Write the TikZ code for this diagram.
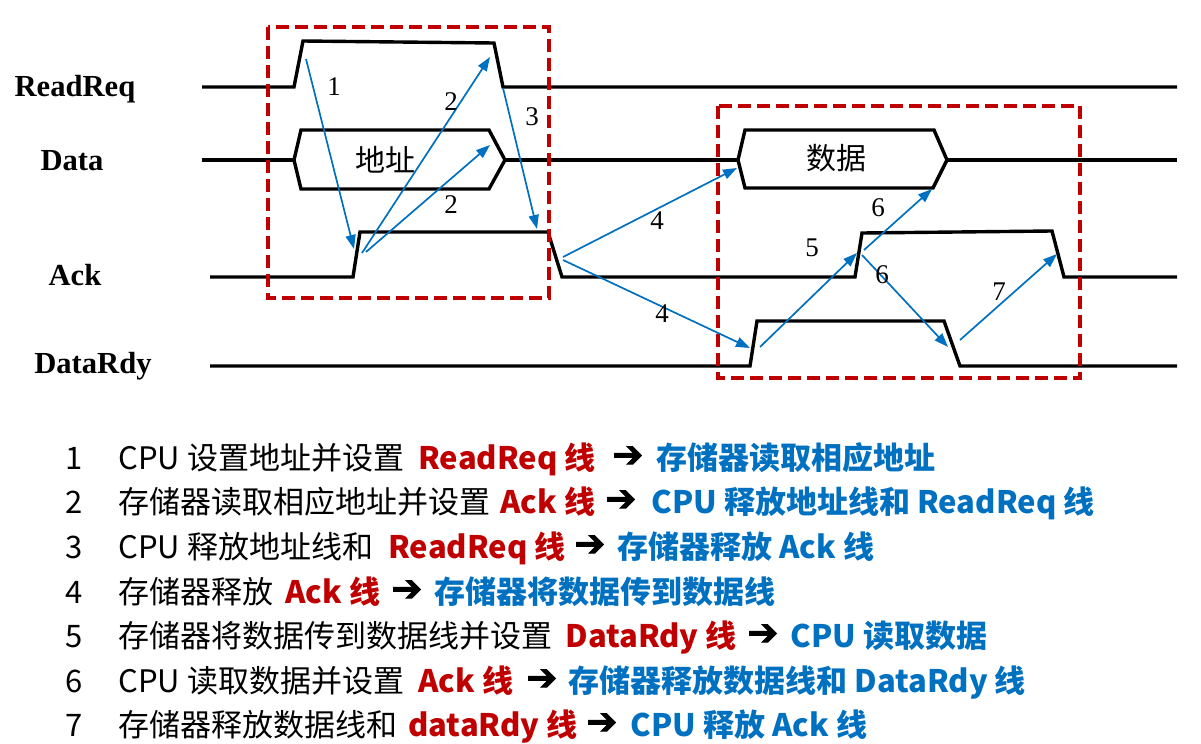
\documentclass[tikz,border=0pt]{standalone}
\usepackage{fontspec}
\newfontfamily\tnr{Liberation Serif}
\newfontfamily\cjk{Noto Sans CJK SC}
\newfontfamily\djv[FakeBold=2]{DejaVu Sans}
\usetikzlibrary{arrows.meta}
\definecolor{dred}{RGB}{192,0,0}
\definecolor{dblue}{RGB}{0,112,192}
\begin{document}
\begin{tikzpicture}[x=0.5pt,y=-0.5pt,
  sig/.style={line width=1.7pt, line join=miter},
  rbox/.style={draw=dred, line width=1.8pt, dash pattern=on 6.5pt off 3pt},
  harr/.style={draw=dblue, line width=0.85pt, -{Triangle[length=7pt,width=5pt]}},
  num/.style={font=\tnr\fontsize{13.5}{15}\selectfont, inner sep=0pt},
  sname/.style={font=\tnr\bfseries\fontsize{15.3}{17}\selectfont, anchor=base, inner sep=0pt},
  hexlbl/.style={font=\cjk\fontsize{15}{17}\selectfont, inner sep=0pt},
  row/.style={font=\cjk\fontsize{15.5}{18}\selectfont, anchor=base west, inner sep=0pt},
  rownum/.style={font=\cjk\fontsize{15.5}{18}\selectfont, anchor=base, inner sep=0pt},
  rred/.style={row, font=\cjk\bfseries\fontsize{15.5}{18}\selectfont, text=dred},
  rblue/.style={row, font=\cjk\bfseries\fontsize{15.5}{18}\selectfont, text=dblue},
  rarr/.style={row, font=\djv\fontsize{18.5}{20}\selectfont}]
\useasboundingbox (0,0) rectangle (1201,744);

% signal names
\node[sname] (nRR) at (75,96) {ReadReq};
\node[sname] (nD) at (72,170) {Data};
\node[sname] (nA) at (75,285) {Ack};
\node[sname] (nDR) at (93,373) {DataRdy};

% waveforms
\draw[sig] (202,87) -- (294,87) -- (303,41) -- (494,43) -- (503,87) -- (1177,87);
\draw[sig] (202,160) -- (294,160);
\draw[sig] (294,160) -- (301,130) -- (489,130) -- (505,160) -- (489,189) -- (301,189) -- cycle;
\draw[sig] (505,160) -- (738,160);
\draw[sig] (738,160) -- (745,130) -- (934,130) -- (947,160) -- (933,188) -- (745,188) -- cycle;
\draw[sig] (947,160) -- (1177,160);
\draw[sig] (210,277) -- (353,277) -- (360,232) -- (548,232) -- (562,277) -- (855,277) -- (862,233) -- (1052,231) -- (1064,277) -- (1177,277);
\draw[sig] (210,366) -- (750,366) -- (757,321) -- (944,321) -- (960,366) -- (1177,366);

\node[hexlbl] (hex1) at (385,160) {地址};
\node[hexlbl] (hex2) at (836,158) {数据};

% dashed boxes
\draw[rbox] (268,27) rectangle (549,298);
\draw[rbox] (718,106) rectangle (1080,378);

% arrow endpoints
\coordinate (a1s) at (306,59);  \coordinate (a1e) at (354,249);
\coordinate (a2s) at (362,253); \coordinate (a2e) at (490,57);
\coordinate (b2s) at (366,252); \coordinate (b2e) at (490,145);
\coordinate (a3s) at (503,88);  \coordinate (a3e) at (537,229);
\coordinate (a4s) at (563,257); \coordinate (a4e) at (737,168);
\coordinate (b4s) at (563,260); \coordinate (b4e) at (750,348);
\coordinate (a5s) at (760,347); \coordinate (a5e) at (857,253);
\coordinate (a6s) at (864,250); \coordinate (a6e) at (932,189);
\coordinate (b6s) at (862,255); \coordinate (b6e) at (948,347);
\coordinate (a7s) at (960,340); \coordinate (a7e) at (1057,254);

\draw[harr] (a1s) -- (a1e);
\draw[harr] (a2s) -- (a2e);
\draw[harr] (b2s) -- (b2e);
\draw[harr] (a3s) -- (a3e);
\draw[harr] (a4s) -- (a4e);
\draw[harr] (b4s) -- (b4e);
\draw[harr] (a5s) -- (a5e);
\draw[harr] (a6s) -- (a6e);
\draw[harr] (b6s) -- (b6e);
\draw[harr] (a7s) -- (a7e);

\node[num] (l1) at (334,87) {1};
\node[num] (l2a) at (451,102) {2};
\node[num] (l2b) at (451,205) {2};
\node[num] (l3) at (532,117) {3};
\node[num] (l4a) at (657,221) {4};
\node[num] (l4b) at (662,314) {4};
\node[num] (l5) at (812,248) {5};
\node[num] (l6a) at (878,208) {6};
\node[num] (l6b) at (882,275) {6};
\node[num] (l7) at (999,292) {7};

% list
\node[rownum] (n1) at (74,469) {1};
\node[row] (t1a) at (118,469) {CPU 设置地址并设置};
\node[rred] (t1b) at (418,469) {ReadReq 线};
\node[rarr] (t1c) at (612,467) {➔};
\node[rblue] (t1d) at (656,469) {存储器读取相应地址};

\node[rownum] (n2) at (74,513) {2};
\node[row] (t2a) at (118,513) {存储器读取相应地址并设置};
\node[rred] (t2b) at (500,513) {Ack 线};
\node[rarr] (t2c) at (605,511) {➔};
\node[rblue] (t2d) at (651,513) {CPU 释放地址线和 ReadReq 线};

\node[rownum] (n3) at (74,558) {3};
\node[row] (t3a) at (118,558) {CPU 释放地址线和};
\node[rred] (t3b) at (388,558) {ReadReq 线};
\node[rarr] (t3c) at (574,556) {➔};
\node[rblue] (t3d) at (617,558) {存储器释放 Ack 线};

\node[rownum] (n4) at (74,603) {4};
\node[row] (t4a) at (118,603) {存储器释放};
\node[rred] (t4b) at (285,603) {Ack 线};
\node[rarr] (t4c) at (391,601) {➔};
\node[rblue] (t4d) at (434,603) {存储器将数据传到数据线};

\node[rownum] (n5) at (74,647) {5};
\node[row] (t5a) at (118,647) {存储器将数据传到数据线并设置};
\node[rred] (t5b) at (565,647) {DataRdy 线};
\node[rarr] (t5c) at (747,645) {➔};
\node[rblue] (t5d) at (790,647) {CPU 读取数据};

\node[rownum] (n6) at (74,692) {6};
\node[row] (t6a) at (118,692) {CPU 读取数据并设置};
\node[rred] (t6b) at (418,692) {Ack 线};
\node[rarr] (t6c) at (526,690) {➔};
\node[rblue] (t6d) at (568,692) {存储器释放数据线和 DataRdy 线};

\node[rownum] (n7) at (74,736) {7};
\node[row] (t7a) at (118,736) {存储器释放数据线和};
\node[rred] (t7b) at (408,736) {dataRdy 线};
\node[rarr] (t7c) at (586,734) {➔};
\node[rblue] (t7d) at (630,736) {CPU 释放 Ack 线};
\end{tikzpicture}
\end{document}
